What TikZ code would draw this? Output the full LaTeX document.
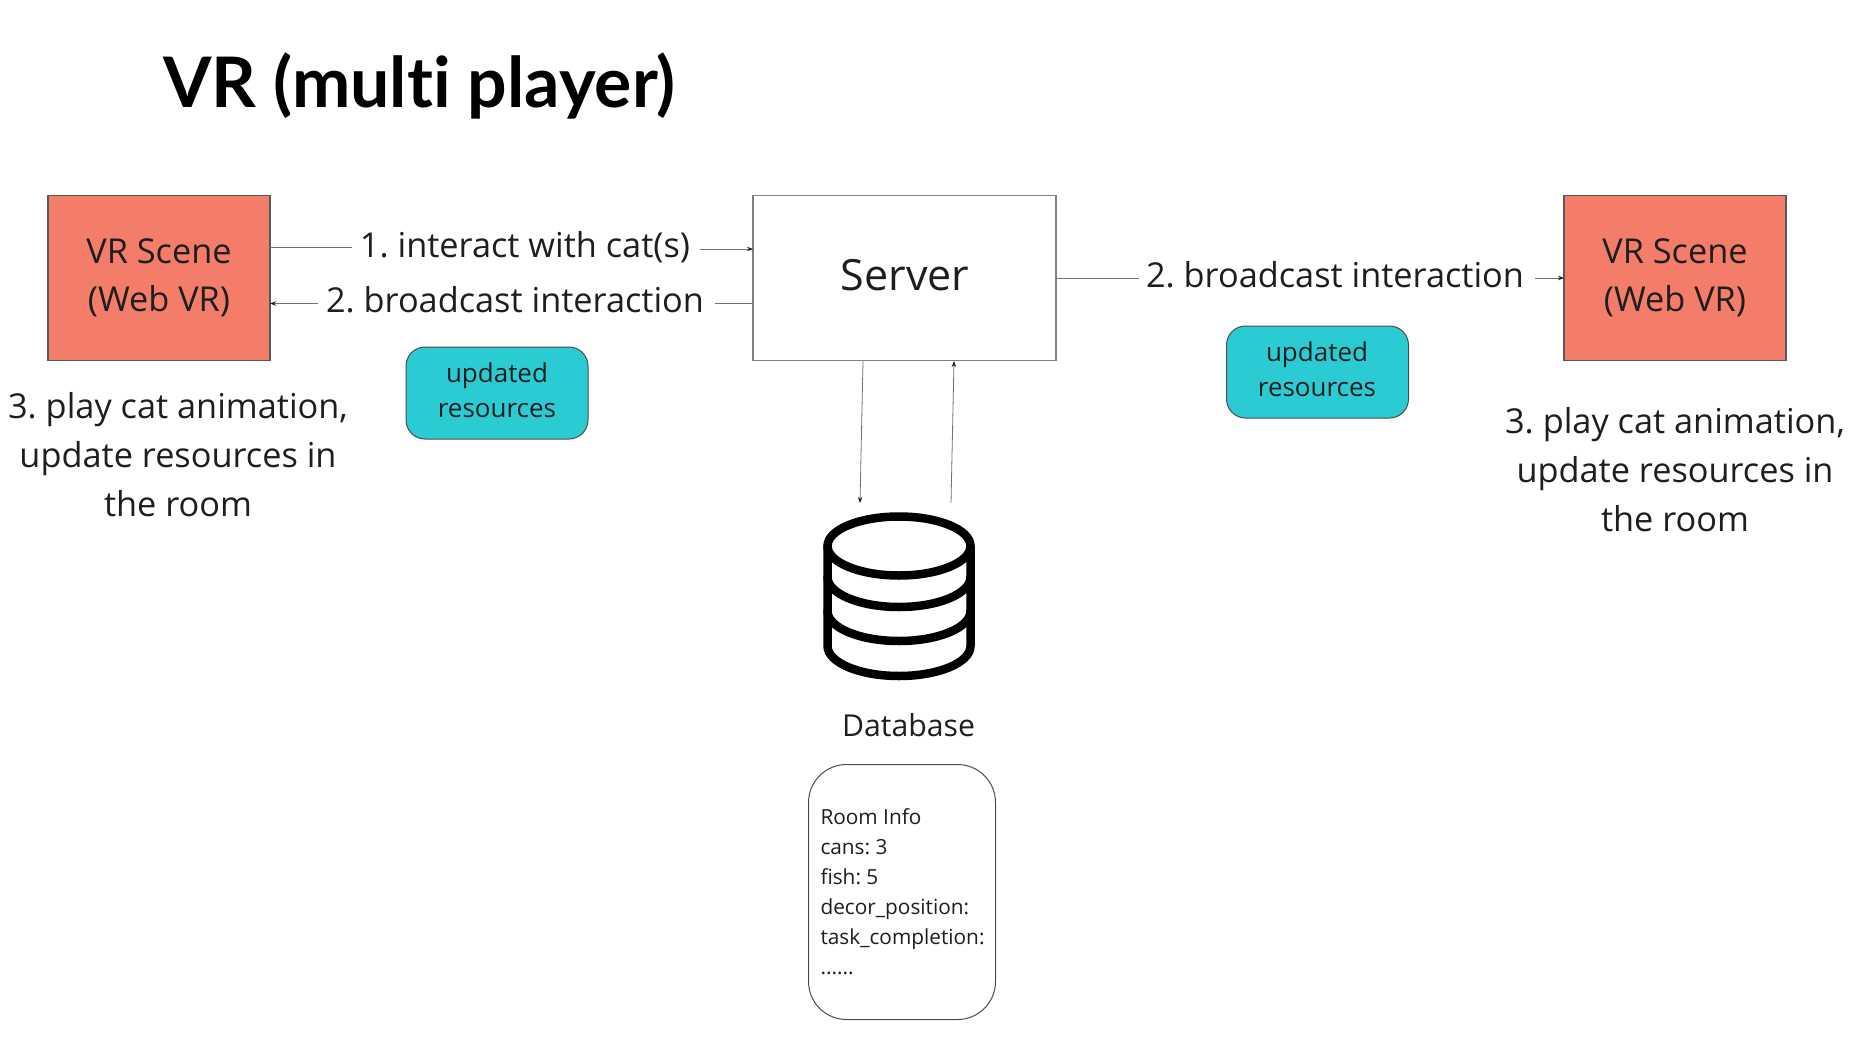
\documentclass[tikz,border=0pt]{standalone}
\usepackage{fontspec}
\setmainfont{Open Sans}
\newfontfamily\titlefont[Ligatures=NoCommon]{Lato}
\usetikzlibrary{arrows.meta}
\definecolor{salmon}{HTML}{F47D6A}
\definecolor{tealb}{HTML}{2BCBD3}
\definecolor{wire}{HTML}{707070}
\definecolor{ink}{HTML}{1E1E1E}
\frenchspacing
\tikzset{
  x=1pt,y=-1pt,
  every node/.style={text=ink,inner sep=0pt,outer sep=0pt},
  vrbox/.style={draw=black!65,line width=1.4pt,fill=salmon,minimum width=222pt,minimum height=165pt},
  serverbox/.style={draw=black!50,line width=1.4pt,fill=white,minimum width=303pt,minimum height=165pt},
  resbox/.style={draw=black!70,line width=1pt,fill=tealb,rounded corners=19pt,minimum width=182pt,minimum height=92pt},
  infobox/.style={draw=black!70,line width=1pt,fill=white,rounded corners=38pt,minimum width=187pt,minimum height=255pt},
  biglabel/.style={font=\fontsize{34.3}{48}\selectfont,anchor=base,align=center},
  reslabel/.style={font=\fontsize{26}{35}\selectfont,anchor=base,align=center},
  infolabel/.style={anchor=base west,font=\fontsize{20.8}{30}\selectfont},
  wireline/.style={draw=wire,line width=0.8pt},
  wirearrow/.style={wireline,-{Stealth[length=6pt,width=4.5pt,color=ink]}},
  dbline/.style={line width=8.5pt,draw=black,line cap=round,line join=round},
}
\begin{document}
\begin{tikzpicture}
\useasboundingbox (0,0) rectangle (1876,1046);
\node[font=\titlefont\bfseries\fontsize{69.7}{72}\selectfont,anchor=base west,text=black] (title) at (163,108) {VR (multi player)};

\node[vrbox] (vrL) at (159,278) {};
\node[vrbox] (vrR) at (1675,278) {};
\node[serverbox] (server) at (904.5,278) {};
\node[biglabel] (vrLa) at (159,263) {VR Scene};
\node[biglabel] (vrLb) at (159,311) {(Web VR)};
\node[biglabel] (vrRa) at (1675,263) {VR Scene};
\node[biglabel] (vrRb) at (1675,311) {(Web VR)};
\node[biglabel,font=\fontsize{43}{48}\selectfont] (srv) at (905,290) {Server};

\node[biglabel] (i1) at (525,257) {1. interact with cat(s)};
\node[biglabel] (b2) at (515,312) {2. broadcast interaction};
\node[biglabel] (b3) at (1335,287) {2. broadcast interaction};

\coordinate (i1w) at (352,247);
\coordinate (i1e) at (700,249);
\coordinate (b2w) at (318,303.5);
\coordinate (b2e) at (715,303.5);
\coordinate (b3w) at (1139,278);
\coordinate (b3e) at (1535,278);
\draw[wireline] (vrL.east |- i1w) -- (i1w);
\draw[wirearrow] (i1e) -- (server.west |- i1e);
\draw[wirearrow] (b2w) -- (vrL.east |- b2w);
\draw[wireline] (b2e) -- (server.west |- b2e);
\draw[wireline] (server.east |- b3w) -- (b3w);
\draw[wirearrow] (b3e) -- (vrR.west |- b3e);

\node[resbox] (resL) at (497,393) {};
\node[resbox] (resR) at (1317.5,372) {};
\node[reslabel] (resLa) at (497,382) {updated};
\node[reslabel] (resLb) at (497,417) {resources};
\node[reslabel] (resRa) at (1317,361) {updated};
\node[reslabel] (resRb) at (1317,396) {resources};

\node[biglabel] (pLa) at (178,418) {3. play cat animation,};
\node[biglabel] (pLb) at (178,467) {update resources in};
\node[biglabel] (pLc) at (178,516) {the room};
\node[biglabel] (pRa) at (1675,433) {3. play cat animation,};
\node[biglabel] (pRb) at (1675,482) {update resources in};
\node[biglabel] (pRc) at (1675,531) {the room};

% database icon
\coordinate (dbdown) at (860,503);
\coordinate (dbup) at (951,503);
\coordinate (sd) at (863,361);
\coordinate (su) at (954,361);
\draw[wirearrow] (sd) -- (dbdown);
\draw[wirearrow] (dbup) -- (su);

\draw[dbline] (899,546) ellipse [x radius=71.5pt,y radius=29.5pt];
\draw[dbline] (827.5,546) -- (827.5,646) arc[start angle=180,end angle=360,x radius=71.5pt,y radius=30pt] -- (970.5,546);
\draw[dbline] (827.5,577) arc[start angle=180,end angle=360,x radius=71.5pt,y radius=30pt];
\draw[dbline] (827.5,611) arc[start angle=180,end angle=360,x radius=71.5pt,y radius=30pt];

\node[biglabel,font=\fontsize{30.2}{34}\selectfont] (dbl) at (908.5,736) {Database};
\node[infobox] (info) at (902,892) {};
\node[infolabel] (r1) at (820.5,824) {Room Info};
\node[infolabel] (r2) at (820.5,854) {cans: 3};
\node[infolabel] (r3) at (820.5,884) {fish: 5};
\node[infolabel] (r4) at (820.5,914) {decor\_position:};
\node[infolabel] (r5) at (820.5,944) {task\_completion:};
\node[infolabel] (r6) at (820.5,974) {......};
\end{tikzpicture}
\end{document}
